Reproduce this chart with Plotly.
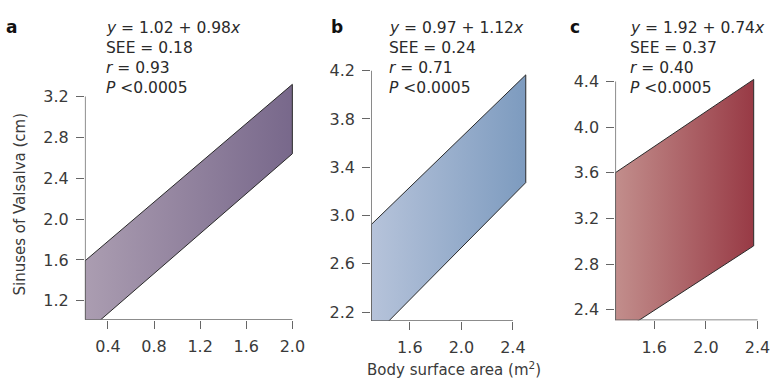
import plotly.graph_objects as go

# ---- data ----
panels = ["a", "b", "c"]
# band polygon: x at left/right edges, upper and lower bound values there
band_x = [[0.2, 2.0], [1.3, 2.5], [1.3, 2.37]]
band_upper = [[1.59, 3.32], [2.925, 4.165], [3.6, 4.417]]
band_lower = [[0.88, 2.64], [1.98, 3.273], [2.174, 2.96]]
x_ticks = [[0.4, 0.8, 1.2, 1.6, 2.0], [1.6, 2.0, 2.4], [1.6, 2.0, 2.4]]
y_ticks = [[1.2, 1.6, 2.0, 2.4, 2.8, 3.2], [2.2, 2.6, 3.0, 3.4, 3.8, 4.2],
           [2.4, 2.8, 3.2, 3.6, 4.0, 4.4]]
stats_lines = [
    ["<i>y</i> = 1.02 + 0.98<i>x</i>", "SEE = 0.18", "<i>r</i> = 0.93", "<i>P</i> <0.0005"],
    ["<i>y</i> = 0.97 + 1.12<i>x</i>", "SEE = 0.24", "<i>r</i> = 0.71", "<i>P</i> <0.0005"],
    ["<i>y</i> = 1.92 + 0.74<i>x</i>", "SEE = 0.37", "<i>r</i> = 0.40", "<i>P</i> <0.0005"],
]
grad_colors = [["#ab9db1", "#78688b"], ["#b6c3da", "#7d9bbf"], ["#c28e8c", "#983a45"]]
x_title = "Body surface area (m<sup>2</sup>)"
y_title = "Sinuses of Valsalva (cm)"

# ---- layout geometry (pixels) ----
W, H = 781, 383
# x: origin pixel, origin value, px per unit, range max
geo_x = [(86, 0.2, 116.75, 2.05), (376, 1.3, 130.5, 2.53), (623.3, 1.3, 131.0, 2.42)]
# y: bottom pixel, bottom value, px per unit, range max
geo_y = [(319.3, 1.015, 104.25, 3.36), (320.7, 2.127, 123.35, 4.22), (320.0, 2.308, 116.65, 4.45)]
text_x = [105, 392.5, 636]
label_x = [12, 341, 582]

FONT = "DejaVu Sans, Liberation Sans, sans-serif"
AXC = "#666666"
TXT = "#2a2a2a"

fig = go.Figure()
shapes = []
annotations = []

for i in range(3):
    xs = "" if i == 0 else str(i + 1)
    x0p, x0v, xs_px, xmax = geo_x[i]
    y0p, y0v, ys_px, ymax = geo_y[i]
    x1p = x0p + (xmax - x0v) * xs_px
    y1p = y0p - (ymax - y0v) * ys_px

    bx = band_x[i]
    fig.add_trace(go.Scatter(
        x=[bx[0], bx[1], bx[1], bx[0], bx[0]],
        y=[band_upper[i][0], band_upper[i][1], band_lower[i][1], band_lower[i][0], band_upper[i][0]],
        mode="lines", fill="toself",
        fillgradient=dict(type="horizontal",
                          colorscale=[[0, grad_colors[i][0]], [1, grad_colors[i][1]]]),
        line=dict(color="#2a2a2a", width=1),
        xaxis="x" + xs, yaxis="y" + xs, showlegend=False, hoverinfo="skip",
    ))

    common = dict(showgrid=False, zeroline=False, showline=False, ticks="outside",
                  ticklen=8, tickwidth=1.3, tickcolor=AXC,
                  tickfont=dict(family=FONT, size=16, color="#3a3a3a"))
    fig.update_layout(**{
        "xaxis" + xs: dict(domain=[x0p / W, x1p / W], range=[x0v, xmax],
                           tickvals=x_ticks[i], ticktext=[f"{v:.1f}" for v in x_ticks[i]],
                           anchor="y" + xs, ticklabelstandoff=4, **common),
        "yaxis" + xs: dict(domain=[1 - y0p / H, 1 - y1p / H], range=[y0v, ymax],
                           tickvals=y_ticks[i], ticktext=[f"{v:.1f}" for v in y_ticks[i]],
                           anchor="x" + xs, ticklabelstandoff=4, **common),
    })
    # axis lines (end at last tick)
    shapes.append(dict(type="line", xref="x" + xs, yref="y" + xs,
                       x0=x0v, x1=x_ticks[i][-1], y0=y0v, y1=y0v,
                       line=dict(color=AXC, width=1.5)))
    shapes.append(dict(type="line", xref="x" + xs, yref="y" + xs,
                       x0=x0v, x1=x0v, y0=y0v, y1=y_ticks[i][-1],
                       line=dict(color=AXC, width=1.5)))

    # panel letter
    annotations.append(dict(x=label_x[i] / W, y=1 - 20 / H, xref="paper", yref="paper",
                            text=f"<b>{panels[i]}</b>", showarrow=False,
                            xanchor="center", yanchor="middle",
                            font=dict(family=FONT, size=17, color="#111111")))
    for k, line in enumerate(stats_lines[i]):
        annotations.append(dict(x=text_x[i] / W, y=1 - (21 + 20.5 * k) / H,
                                xref="paper", yref="paper", text=line, showarrow=False,
                                xanchor="left", yanchor="middle",
                                font=dict(family=FONT, size=15.5, color=TXT)))

annotations.append(dict(x=460 / W, y=1 - 370 / H, xref="paper", yref="paper",
                        text=x_title, showarrow=False, xanchor="center", yanchor="middle",
                        font=dict(family=FONT, size=15, color="#3a3a3a")))
annotations.append(dict(x=20 / W, y=1 - 201 / H, xref="paper", yref="paper",
                        text=y_title, showarrow=False, xanchor="center", yanchor="middle",
                        textangle=-90,
                        font=dict(family=FONT, size=15, color="#3a3a3a")))

fig.update_layout(
    width=W, height=H, margin=dict(l=0, r=0, t=0, b=0),
    paper_bgcolor="white", plot_bgcolor="rgba(0,0,0,0)",
    shapes=shapes, annotations=annotations, showlegend=False,
)

fig.write_html("out.html", config={"displayModeBar": False},
               post_script="document.body.style.margin='0px';")
